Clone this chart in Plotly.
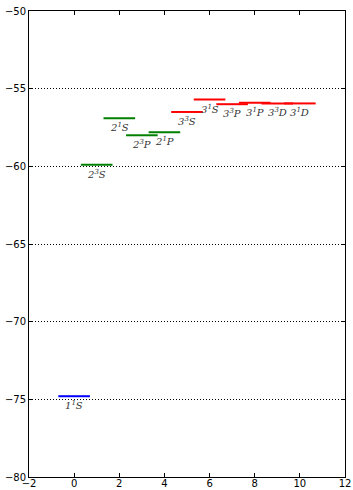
import plotly.graph_objects as go

# Energy levels
labels = ["1<sup>1</sup>S", "2<sup>3</sup>S", "2<sup>1</sup>S", "2<sup>3</sup>P", "2<sup>1</sup>P",
          "3<sup>3</sup>S", "3<sup>1</sup>S", "3<sup>3</sup>P", "3<sup>1</sup>P", "3<sup>3</sup>D", "3<sup>1</sup>D"]
positions = [0, 1, 2, 3, 4, 5, 6, 7, 8, 9, 10]
energies = [-74.8, -59.9, -56.9, -58.0, -57.8, -56.5, -55.7, -56.0, -55.9, -55.95, -55.95]
shells = [1, 2, 2, 2, 2, 3, 3, 3, 3, 3, 3]
shell_colors = {1: "#0000ff", 2: "#008000", 3: "#ff0000"}
half_width = 0.7

fig = go.Figure()
for shell in [1, 2, 3]:
    xs, ys = [], []
    for p, e, s in zip(positions, energies, shells):
        if s == shell:
            xs += [p - half_width, p + half_width, None]
            ys += [e, e, None]
    fig.add_trace(go.Scatter(x=xs, y=ys, mode="lines",
                             line=dict(color=shell_colors[shell], width=2),
                             showlegend=False, hoverinfo="skip"))

for lab, p, e in zip(labels, positions, energies):
    fig.add_annotation(x=p, y=e, text="<i>" + lab + "</i>", showarrow=False,
                       yanchor="top", xanchor="center", yshift=-1,
                       font=dict(family="DejaVu Serif", size=10, color="#333333"))

axis_common = dict(showline=True, linecolor="black", linewidth=1, mirror="allticks",
                   ticks="inside", ticklen=4, tickcolor="black", zeroline=False,
                   automargin=False,
                   tickfont=dict(family="DejaVu Sans", size=10, color="black"))

fig.update_xaxes(range=[-2, 12], dtick=2, tick0=0, showgrid=False,
                 ticklabelstandoff=-3, **axis_common)
fig.update_yaxes(range=[-80, -50], dtick=5, tick0=-80, showgrid=True,
                 gridcolor="black", griddash="1px,2px", gridwidth=1, **axis_common)

fig.update_layout(width=353, height=490, margin=dict(l=29, r=8, t=11, b=13),
                  plot_bgcolor="white", paper_bgcolor="white")

fig.write_html("out.html")
